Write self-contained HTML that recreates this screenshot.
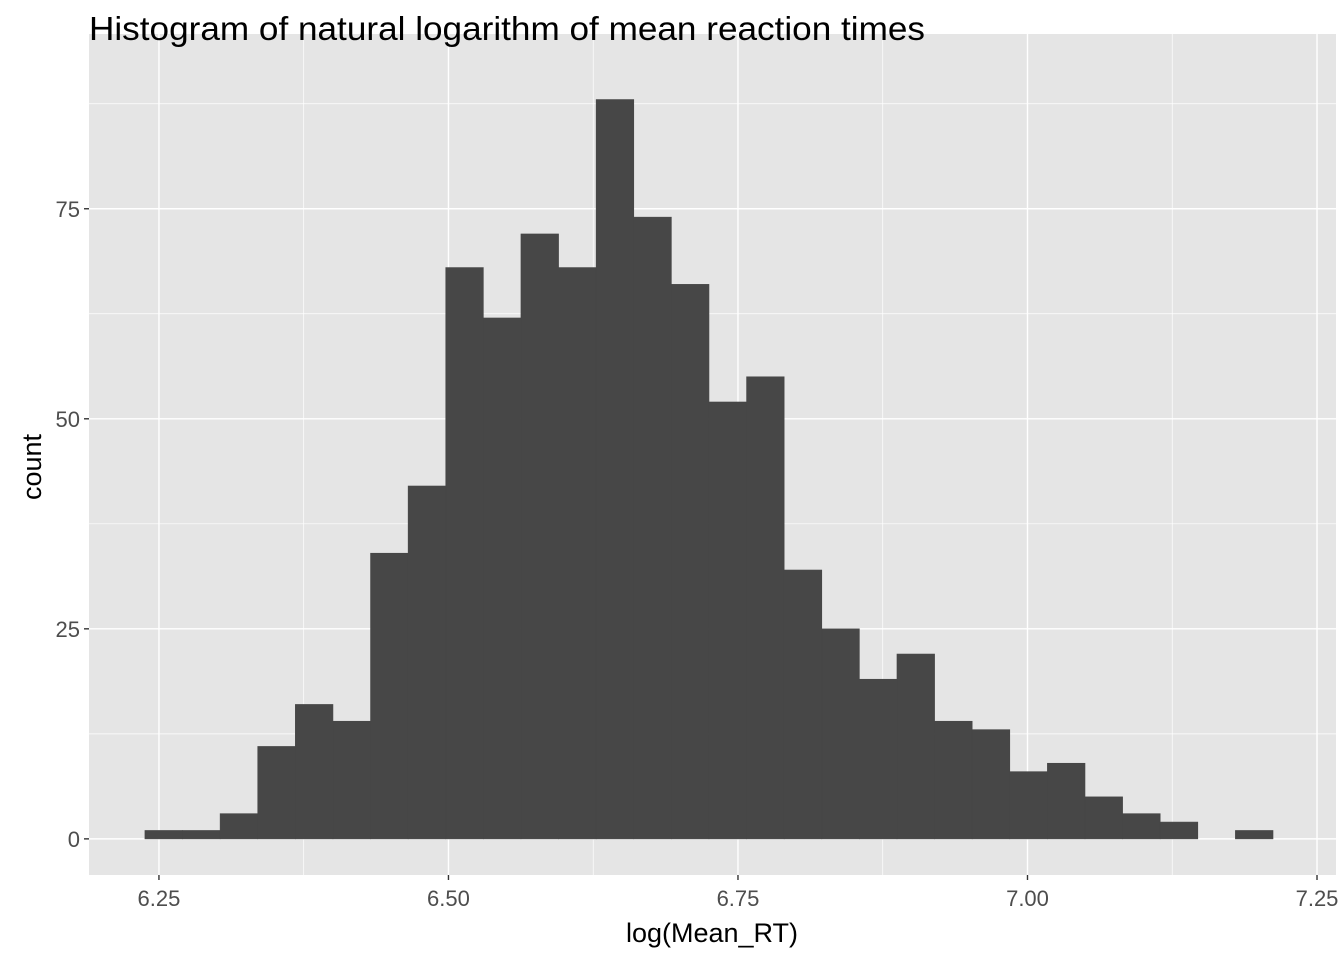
<!DOCTYPE html>
<html><head><meta charset="utf-8"><style>
body{margin:0;background:#fff;font-family:"Liberation Sans",sans-serif}
</style></head><body>
<svg id="chart" width="1344" height="960" xmlns="http://www.w3.org/2000/svg">
<g id="plot"></g>
<text x="89" y="40" font-size="33" textLength="836" lengthAdjust="spacingAndGlyphs" fill="#000">Histogram of natural logarithm of mean reaction times</text>
<text x="712" y="942" font-size="27" text-anchor="middle" fill="#000">log(Mean_RT)</text>
<text x="0" y="0" font-size="27" text-anchor="middle" fill="#000" transform="translate(41,467) rotate(-90)">count</text>
</svg>
<script>
const counts=[1,1,3,11,16,14,34,42,68,62,72,68,88,74,66,52,55,32,25,19,22,14,13,8,9,5,3,2,0,1];
const binStart=6.2379;
const binWidth=0.03247;
const xTicks=[6.25,6.5,6.75,7.0,7.25];
const xTickLabels=["6.25","6.50","6.75","7.00","7.25"];
const yTicks=[0,25,50,75];
const yTickLabels=["0","25","50","75"];
const L=89,R=1336,T=34,B=875;
const xMin=6.1896,xMax=7.2664,yMin=-4.3,yMax=95.8;
const sx=v=>L+(v-xMin)/(xMax-xMin)*(R-L);
const sy=v=>B-(v-yMin)/(yMax-yMin)*(B-T);
const NS="http://www.w3.org/2000/svg";
const g=document.getElementById('plot');
function mk(tag,a){const e=document.createElementNS(NS,tag);for(const k in a)e.setAttribute(k,a[k]);g.appendChild(e);return e;}
const bg=mk('rect',{x:L,y:T,width:R-L,height:B-T,fill:'#e5e5e5'});


for(let i=0;i<xTicks.length-1;i++){const x=sx((xTicks[i]+xTicks[i+1])/2);const l=mk('line',{x1:x,x2:x,y1:T,y2:B,stroke:'#fff','stroke-width':0.7});

}
for(let i=0;i<yTicks.length;i++){const v=yTicks[i]+12.5;const y=sy(v);if(y<T)continue;const l=mk('line',{x1:L,x2:R,y1:y,y2:y,stroke:'#fff','stroke-width':0.7});

}
xTicks.forEach((v,i)=>{const x=sx(v);const l=mk('line',{x1:x,x2:x,y1:T,y2:B,stroke:'#fff','stroke-width':1.4});


const t=mk('line',{x1:x,x2:x,y1:B,y2:B+5,stroke:'#333','stroke-width':1.4});


const tx=mk('text',{x:x,y:B+31,'font-size':22,'text-anchor':'middle',fill:'#4d4d4d'});tx.textContent=xTickLabels[i];

});
yTicks.forEach((v,i)=>{const y=sy(v);const l=mk('line',{x1:L,x2:R,y1:y,y2:y,stroke:'#fff','stroke-width':1.4});


const t=mk('line',{x1:L-5,x2:L,y1:y,y2:y,stroke:'#333','stroke-width':1.4});


const tx=mk('text',{x:L-9,y:y+8,'font-size':22,'text-anchor':'end',fill:'#4d4d4d'});tx.textContent=yTickLabels[i];

});
counts.forEach((c,i)=>{if(c<=0)return;const x0=sx(binStart+i*binWidth),x1=sx(binStart+(i+1)*binWidth);
const r=mk('rect',{x:x0,y:sy(c),width:x1-x0,height:sy(0)-sy(c),fill:'#474747',stroke:'#474747','stroke-width':0.6});

});
</script>
</body></html>
